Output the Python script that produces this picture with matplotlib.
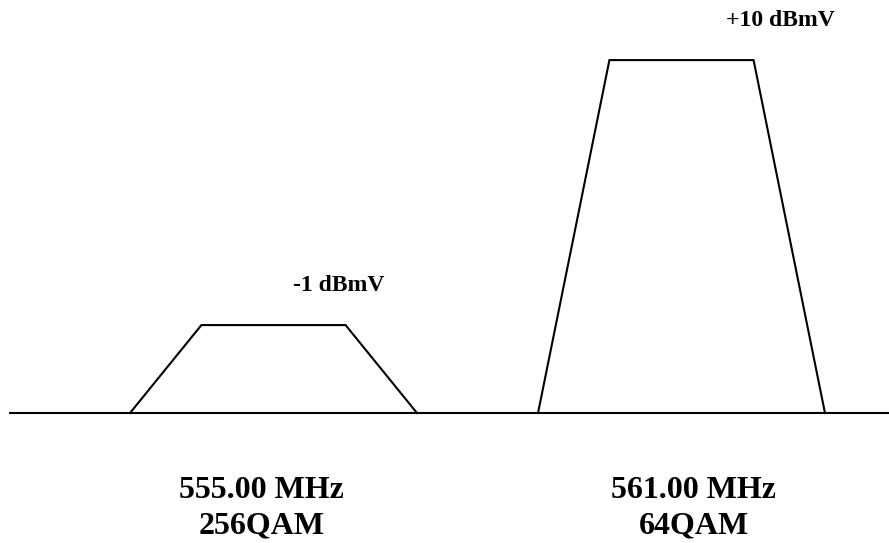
import matplotlib
matplotlib.use("Agg")
import matplotlib.pyplot as plt

# ---- data ----
freqs_mhz = [555.00, 561.00]
levels_dbmv = [-1, 10]
modulations = ["256QAM", "64QAM"]
level_labels = ["-1 dBmV", "+10 dBmV"]
freq_labels = ["555.00 MHz", "561.00 MHz"]

# ---- geometry (styling) ----
floor_db = -4.65          # baseline of the spectrum drawing
base_half = 2.11          # MHz half-width at baseline
top_half = 1.06           # MHz half-width at top
level_lbl_dx = [0.96, 1.45]
level_lbl_dy = 1.42
freq_lbl_dx = [-0.18, 0.18]

plt.rcParams['font.family'] = ['Liberation Serif', 'DejaVu Serif']

fig = plt.figure(figsize=(8.89, 5.43), dpi=100)
ax = fig.add_axes([0, 0, 1, 1])
x0 = 550.978
ax.set_xlim(x0, x0 + 889 / 68.0)
ax.set_ylim(floor_db - 130 / 24.09, floor_db + 413 / 24.09)
ax.axis('off')

lw = 1.5
# baseline
ax.plot([x0 + 9.5 / 68.0, x0 + 889 / 68.0], [floor_db, floor_db], color='black', lw=lw,
        solid_capstyle='butt')

for f, lv, ll, fl, mod, ldx, fdx in zip(freqs_mhz, levels_dbmv, level_labels,
                                        freq_labels, modulations, level_lbl_dx, freq_lbl_dx):
    xs = [f - base_half, f - top_half, f + top_half, f + base_half]
    ys = [floor_db, lv, lv, floor_db]
    ax.plot(xs, ys, color='black', lw=lw, solid_joinstyle='miter')
    ax.text(f + ldx, lv + level_lbl_dy, ll, ha='center', va='baseline',
            fontsize=17, fontweight='bold')
    ax.text(f + fdx, floor_db - 85 / 24.09, fl, ha='center', va='baseline',
            fontsize=23, fontweight='bold')
    ax.text(f + fdx, floor_db - 120 / 24.09, mod, ha='center', va='baseline',
            fontsize=23, fontweight='bold')

fig.savefig("out.png", dpi=100, facecolor='white')
